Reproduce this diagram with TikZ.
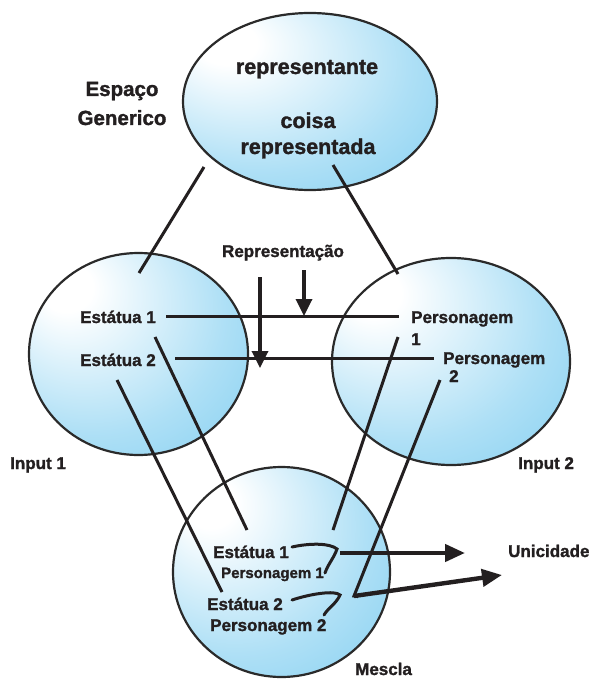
\documentclass[tikz,border=0pt]{standalone}
\usepackage{fontspec}
\setmainfont{Liberation Sans}[BoldFeatures={FakeBold=1.4}]
\usetikzlibrary{arrows.meta,shapes.geometric}
\definecolor{ink}{HTML}{231F20}
\definecolor{rim}{HTML}{2A2A2A}
\definecolor{sky}{RGB}{108,198,238}
% soft highlight towards the upper left of each mental space
\pgfdeclareradialshading{bubble}{\pgfpoint{-18bp}{18bp}}{%
  color(0bp)=(white); color(6bp)=(white); color(30bp)=(sky!55!white);
  color(50bp)=(sky!90!white); color(70bp)=(sky)}
\tikzset{
  space/.style={ellipse, draw=rim, line width=2.2pt, shading=bubble, inner sep=0pt},
  lbl/.style={text=ink, inner sep=0pt, anchor=base, font=\bfseries\fontsize{17}{19}\selectfont},
  big/.style={font=\bfseries\fontsize{21.5}{26}\selectfont},
  small/.style={font=\bfseries\fontsize{15}{17}\selectfont},
  link/.style={draw=ink, line width=3pt},
  hook/.style={draw=ink, line width=3pt, line cap=round},
  push/.style={draw=ink, line width=3.4pt, -{Triangle[length=17pt,width=16pt]}},
  result/.style={draw=ink, line width=4.4pt, -{Triangle[length=20pt,width=17pt]}}
}
\begin{document}
\begin{tikzpicture}[x=1pt,y=-1pt]
\path[use as bounding box, fill=white] (0,0) rectangle (592,679);

% the four mental spaces
\node[space, minimum width=254pt, minimum height=177pt] (gen) at (310,101.5) {};
\node[space, minimum width=219pt, minimum height=202pt] (in1) at (138.5,354) {};
\node[space, minimum width=238pt, minimum height=207pt] (in2) at (451,361.5) {};
\node[space, minimum width=217pt, minimum height=210pt] (mix) at (281.5,572) {};

% generic space
\node[lbl, big] (rep) at (307,74) {representante};
\node[lbl, big] (coisa) at (308,128) {coisa};
\node[lbl, big] (repd) at (308,154) {representada};
\node[lbl, font=\bfseries\fontsize{20.5}{24}\selectfont] (esp) at (122,96) {Espaço};
\node[lbl, font=\bfseries\fontsize{20.5}{24}\selectfont] (gnr) at (122,125) {Generico};

% input spaces
\node[lbl] (repr) at (283,257) {Representação};
\node[lbl, anchor=base west] (e1) at (80,323) {Estátua 1};
\node[lbl, anchor=base west] (e2) at (80,366) {Estátua 2};
\node[lbl, anchor=base west] (p1) at (411,323) {Personagem};
\node[lbl, anchor=base west] (p1n) at (411,345) {1};
\node[lbl, anchor=base west] (p2) at (443,364) {Personagem};
\node[lbl, anchor=base west] (p2n) at (449,382) {2};
\node[lbl, anchor=base west] (inA) at (10,469) {Input 1};
\node[lbl, anchor=base west] (inB) at (518,469) {Input 2};

% blend
\node[lbl, anchor=base west] (be1) at (213,558) {Estátua 1};
\node[lbl, small, anchor=base west] (bp1) at (221,578) {Personagem 1};
\node[lbl, anchor=base west] (be2) at (207,610) {Estátua 2};
\node[lbl, anchor=base west] (bp2) at (210,631) {Personagem 2};
\node[lbl, anchor=base west] (uni) at (508,557) {Unicidade};
\node[lbl, anchor=base west] (mes) at (355,675) {Mescla};

% line end points
\coordinate (g1) at (204,167);   \coordinate (i1) at (139,273);
\coordinate (g2) at (333,165);   \coordinate (i2) at (398,274);
\coordinate (h1a) at (166,316);  \coordinate (h1b) at (399,316);
\coordinate (h2a) at (175,358);  \coordinate (h2b) at (434,358);
\coordinate (d1a) at (304,270);  \coordinate (d1b) at (304,316);
\coordinate (d2a) at (260,277);  \coordinate (d2b) at (260,368);
\coordinate (s1) at (155,337);   \coordinate (t1) at (247,530);
\coordinate (s2) at (117,380);   \coordinate (t2) at (222,592);
\coordinate (s3) at (398,337);   \coordinate (t3) at (333,530);
\coordinate (s4) at (440,380);   \coordinate (t4) at (354,596);
\coordinate (u1a) at (340,553);  \coordinate (u1b) at (465,553);
\coordinate (u2b) at (502,575);

% generic space to inputs
\draw[link] (g1) -- (i1);
\draw[link] (g2) -- (i2);

% cross-space mappings
\draw[link] (h1a) -- (h1b);
\draw[link] (h2a) -- (h2b);
\draw[push] (d1a) -- (d1b);
\draw[push] (d2a) -- (d2b);

% projections into the blend
\draw[link] (s1) -- (t1);
\draw[link] (s2) -- (t2);
\draw[link] (s3) -- (t3);
\draw[link, line join=miter] (s4) -- (t4) -- ([xshift=4pt,yshift=-0.6pt]t4);

% fused pairs
\draw[hook] (292,547) .. controls (310,543) and (330,543) .. (337,549)
            .. controls (334,558) and (328,564) .. (325,573);
\draw[hook] (292,600) .. controls (310,594) and (335,590) .. (340,595)
            .. controls (336,604) and (328,608) .. (324,615);

% emergent uniqueness
\draw[result] (u1a) -- (u1b);
\draw[result] (t4) -- (u2b);
\end{tikzpicture}
\end{document}
